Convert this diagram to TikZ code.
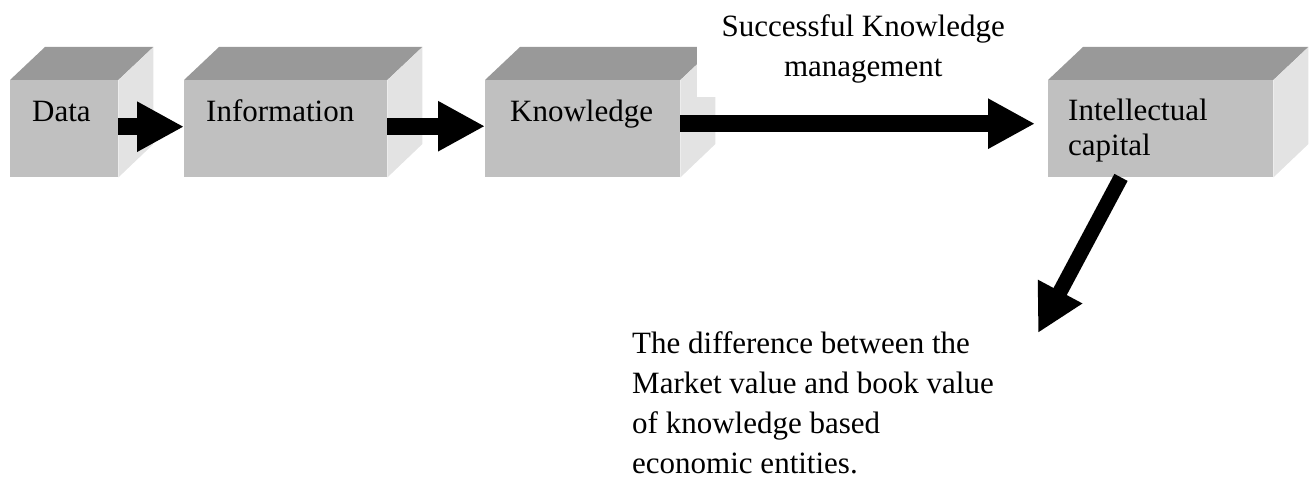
\documentclass[tikz,border=0pt]{standalone}
\usepackage{fontspec}
\setmainfont{Liberation Serif}
\usetikzlibrary{arrows.meta}

\definecolor{frontgray}{HTML}{C0C0C0}
\definecolor{topgray}{HTML}{999999}
\definecolor{sidegray}{HTML}{E3E3E3}

\begin{document}
\begin{tikzpicture}[
		x=1pt, y=-1pt,
		box/.style={fill=frontgray, minimum height=97pt, inner sep=0pt, anchor=north west},
		boxtext/.style={anchor=base west, inner sep=0pt, align=left, font=\fontsize{31}{35}\selectfont},
		note/.style={inner sep=0pt, font=\fontsize{31}{40}\selectfont},
		bigarrow/.style={line width=17pt, -{Triangle[length=47pt,width=47pt]}},
	]
		\useasboundingbox (0,0) rectangle (1314,484);

		% blocks
		\node[box, minimum width=108pt] (data) at (10,80) {};
		\node[box, minimum width=203pt] (info) at (184,80) {};
		\node[box, minimum width=195pt] (know) at (485,80) {};
		\node[box, minimum width=225pt] (cap) at (1048,80) {};

		% top and side faces
		\foreach \b in {data,info,know,cap} {
			\fill[topgray] (\b.north west) -- (\b.north east) -- ++(35,-33) -- ([shift={(35,-33)}]\b.north west) -- cycle;
			\fill[sidegray] (\b.north east) -- ++(35,-33) -- ++(0,97) -- (\b.south east) -- cycle;
		}

		% block texts
		\node[boxtext] (data-t) at (32,122) {Data};
		\node[boxtext] (info-t) at (206,122) {Information};
		\node[boxtext] (know-t) at (510,122) {Knowledge};
		\node[boxtext] (cap-t) at (1068,155) {Intellectual\\capital};

		% notes
		\node[note, fill=white, align=center, minimum width=332pt, minimum height=97pt, anchor=north west] (km) at (697,0) {Successful Knowledge\\management};
		\node[note, align=left, anchor=north west] (diff) at (632,331) {The difference between the\\Market value and book value\\of knowledge based\\economic entities.};

		% arrows
		\coordinate (tip) at (1038,333);
		\draw[bigarrow] ([yshift=2pt]data.east) -- ([yshift=2pt]info.west);
		\draw[bigarrow] ([yshift=2.5pt]info.east) -- ([yshift=2.5pt]know.west);
		\draw[bigarrow, shorten >=13pt] ([yshift=5pt]know.east) -- ([yshift=5pt]cap.west);
		\draw[bigarrow, line width=15pt] ([xshift=73pt]cap.south west) -- (tip);
	\end{tikzpicture}
\end{document}
